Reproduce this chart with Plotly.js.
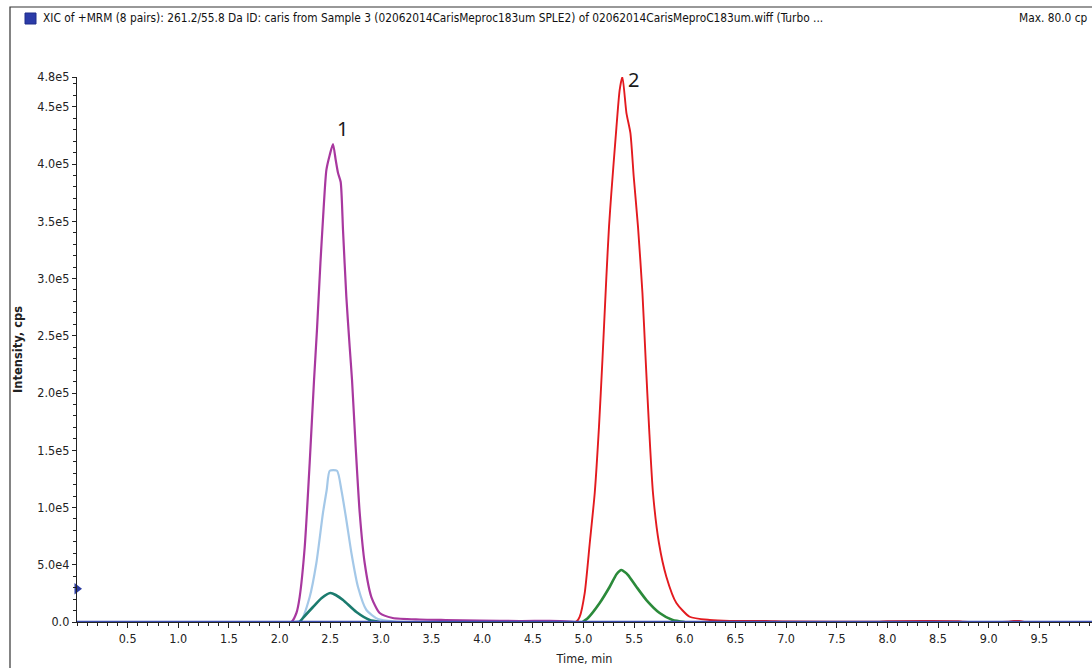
<!DOCTYPE html>
<html>
<head>
<meta charset="utf-8">
<script src="https://cdn.plot.ly/plotly-3.0.1.min.js"></script>
<style>
  html, body { margin: 0; padding: 0; background: #fff; }
  #chart { width: 1092px; height: 668px; }
</style>
</head>
<body>
<div id="chart"></div>
<script>
// ---- data (time in min, intensity in cps) ----
const magentaTime = [2.00, 2.116, 2.166, 2.198, 2.248, 2.297, 2.340, 2.369, 2.403, 2.428, 2.462, 2.495, 2.527, 2.554, 2.577, 2.603, 2.626, 2.659, 2.692, 2.715, 2.751, 2.791, 2.840, 2.906, 2.988, 3.117, 3.383, 3.640, 3.975, 4.37, 4.765, 4.92];
const magentaInt  = [0, 0, 7860, 21800, 65500, 138900, 211400, 255100, 313500, 351300, 394900, 407900, 417500, 403500, 392100, 384300, 342400, 283800, 240200, 211400, 152800, 95200, 51500, 21800, 7860, 3500, 2200, 1750, 1300, 870, 870, 0];

const lightBlueTime = [2.149, 2.215, 2.297, 2.363, 2.428, 2.465, 2.495, 2.567, 2.610, 2.659, 2.709, 2.774, 2.857, 2.971, 3.136, 3.28];
const lightBlueInt  = [0, 1750, 21800, 51500, 95200, 115300, 132100, 132100, 115300, 89100, 60300, 30600, 10500, 2600, 440, 0];

const tealTime = [2.198, 2.231, 2.330, 2.416, 2.501, 2.554, 2.626, 2.758, 2.889, 2.988];
const tealInt  = [0, 3500, 13100, 21000, 25300, 23600, 19200, 8700, 1750, 0];

const redTime = [4.862, 4.930, 4.962, 5.012, 5.062, 5.111, 5.153, 5.187, 5.226, 5.252, 5.275, 5.318, 5.357, 5.384, 5.424, 5.463, 5.496, 5.538, 5.582, 5.614, 5.647, 5.686, 5.745, 5.818, 5.917, 6.048, 6.246, 6.443, 6.80, 7.00, 7.90, 8.00, 8.70, 8.75, 9.20, 9.25, 9.30, 9.35];
const redInt  = [0, 260, 4400, 25300, 69000, 112700, 170600, 228800, 301600, 345300, 374700, 423900, 464600, 476200, 444500, 427100, 388900, 345300, 287300, 228800, 170600, 112700, 69000, 39600, 16600, 4600, 1750, 870, 870, 400, 300, 800, 800, 200, 200, 900, 900, 0];

const greenTime = [4.992, 5.044, 5.160, 5.259, 5.328, 5.374, 5.407, 5.440, 5.522, 5.621, 5.752, 5.880, 5.999];
const greenInt  = [0, 3500, 16600, 30800, 41900, 45400, 43700, 41000, 30800, 19200, 7860, 1750, 0];

const blueTime = [0, 10.02];
const blueInt  = [0, 0];

const markerTime = [0];
const markerInt  = [29000];

const xTickVals   = [0.5, 1.0, 1.5, 2.0, 2.5, 3.0, 3.5, 4.0, 4.5, 5.0, 5.5, 6.0, 6.5, 7.0, 7.5, 8.0, 8.5, 9.0, 9.5];
const xTickLabels = ["0.5","1.0","1.5","2.0","2.5","3.0","3.5","4.0","4.5","5.0","5.5","6.0","6.5","7.0","7.5","8.0","8.5","9.0","9.5"];
const yTickVals   = [0, 50000, 100000, 150000, 200000, 250000, 300000, 350000, 400000, 450000, 476000];
const yTickLabels = ["0.0","5.0e4","1.0e5","1.5e5","2.0e5","2.5e5","3.0e5","3.5e5","4.0e5","4.5e5","4.8e5"];

const headerText = "XIC of +MRM (8 pairs): 261.2/55.8 Da ID: caris from Sample 3 (02062014CarisMeproc183um SPLE2) of 02062014CarisMeproC183um.wiff (Turbo ...";
const maxText = "Max. 80.0 cp";
const peakLabels = ["1", "2"];
const peakLabelTime = [2.62, 5.49];
const peakLabelInt = [431000, 474000];

// ---- drawing ----
const NARROW = '"Liberation Sans Narrow", "Arial Narrow", "DejaVu Sans Condensed", sans-serif';

const SM = 0.6;
const traces = [
  {x: magentaTime, y: magentaInt, mode: 'lines', line: {color: '#A8389F', width: 2.2, shape: 'spline', smoothing: SM}},
  {x: lightBlueTime, y: lightBlueInt, mode: 'lines', line: {color: '#A4C8E8', width: 2.2, shape: 'spline', smoothing: SM}},
  {x: tealTime, y: tealInt, mode: 'lines', line: {color: '#1B7B6E', width: 2.6, shape: 'spline', smoothing: SM}},
  {x: redTime, y: redInt, mode: 'lines', line: {color: '#E31A1F', width: 1.9, shape: 'spline', smoothing: SM}},
  {x: greenTime, y: greenInt, mode: 'lines', line: {color: '#2B8A3A', width: 2.6, shape: 'spline', smoothing: SM}},
  {x: blueTime, y: blueInt, mode: 'lines', line: {color: '#3A4DB0', width: 2.4}, cliponaxis: false},
  {x: markerTime, y: markerInt, mode: 'markers', marker: {symbol: 'triangle-right', size: 10, color: '#2B3BA0'}, cliponaxis: false}
];

// pixel -> paper helpers (plot area: x 77..1092, y 77..622)
const L = 77, R = 1092, T = 77, B = 622;
const px = v => (v - L) / (R - L);
const py = v => (B - v) / (B - T);

const annotations = [
  {xref: 'paper', yref: 'paper', x: px(41), y: py(18), xanchor: 'left', yanchor: 'middle', showarrow: false,
   text: headerText, font: {family: NARROW, size: 11.8, color: '#111'}},
  {xref: 'paper', yref: 'paper', x: px(1090), y: py(18), xanchor: 'right', yanchor: 'middle', showarrow: false,
   text: maxText, font: {family: NARROW, size: 11.8, color: '#111'}},
];
for (let i = 0; i < peakLabels.length; i++) {
  annotations.push({x: peakLabelTime[i], y: peakLabelInt[i], xref: 'x', yref: 'y', showarrow: false,
    text: peakLabels[i], font: {family: '"Noto Sans", "Open Sans", sans-serif', size: 20, color: '#1a1a1a'},
    xanchor: 'center', yanchor: 'middle'});
}

const shapes = [
  // outer frame
  {type: 'rect', xref: 'paper', yref: 'paper', x0: px(10), x1: px(1100), y0: py(700), y1: py(7),
   line: {color: '#333', width: 1.2}, fillcolor: 'rgba(0,0,0,0)', layer: 'below'},
  // blue square in header
  {type: 'rect', xref: 'paper', yref: 'paper', x0: px(25), x1: px(36), y0: py(24), y1: py(13),
   line: {color: '#1E2C8A', width: 1}, fillcolor: '#2B3BA8'}
];

const layout = {
  width: 1092, height: 668,
  margin: {l: L, r: 1092 - R, t: T, b: 668 - B, pad: 0},
  paper_bgcolor: '#fff', plot_bgcolor: '#fff',
  showlegend: false,
  xaxis: {
    range: [0, 10.02], autorange: false, automargin: false,
    showgrid: false, zeroline: false, showline: true, linecolor: '#222', linewidth: 1.2,
    tickmode: 'array', tickvals: xTickVals, ticktext: xTickLabels,
    ticks: 'outside', ticklen: 5, tickcolor: '#222', tickwidth: 1,
    minor: {dtick: 0.1, tick0: 0, ticks: 'outside', ticklen: 3, tickcolor: '#222', showgrid: false},
    tickfont: {family: NARROW, size: 12.5, color: '#222'},
    title: {text: 'Time, min', font: {family: NARROW, size: 12.5, color: '#222'}, standoff: 9}
  },
  yaxis: {
    range: [0, 476000], autorange: false, automargin: false,
    showgrid: false, zeroline: false, showline: true, linecolor: '#222', linewidth: 1.2,
    tickmode: 'array', tickvals: yTickVals, ticktext: yTickLabels,
    ticks: 'outside', ticklen: 4, tickcolor: '#222', tickwidth: 1,
    minor: {dtick: 10000, tick0: 0, ticks: 'outside', ticklen: 3, tickcolor: '#222', showgrid: false},
    tickfont: {family: NARROW, size: 12.5, color: '#222'},
    title: {text: '<b>Intensity, cps</b>', font: {family: '"DejaVu Sans", sans-serif', size: 11.5, color: '#222'}, standoff: 12}
  },
  annotations: annotations,
  shapes: shapes
};

Plotly.newPlot('chart', traces, layout, {staticPlot: true, displayModeBar: false});
</script>
</body>
</html>
